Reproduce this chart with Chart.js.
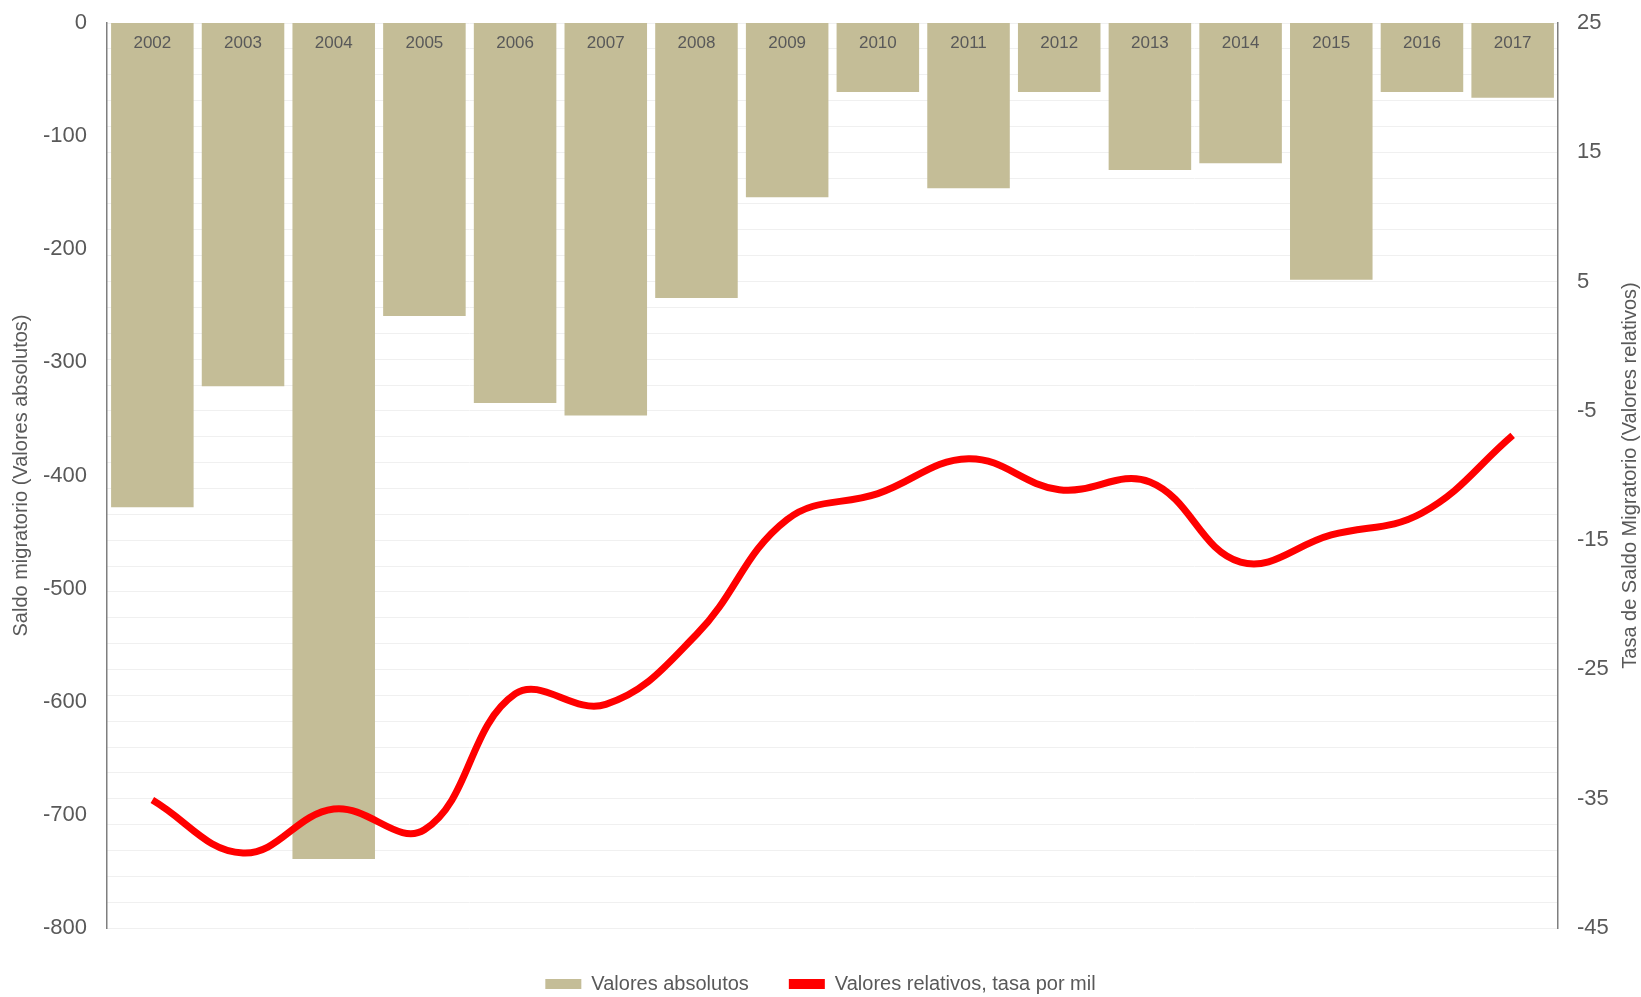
<!DOCTYPE html>
<html>
<head>
<meta charset="utf-8">
<script src="https://cdn.jsdelivr.net/npm/chart.js@4"></script>
<style>
  html, body { margin: 0; padding: 0; background: #fff; }
  #wrap { width: 1641px; height: 997px; position: relative; }
</style>
</head>
<body>
<div id="wrap"><canvas id="chart"></canvas></div>
<script>
// Saldo migratorio 2002-2017

const years = ['2002', '2003', '2004', '2005', '2006', '2007', '2008', '2009',
  '2010', '2011', '2012', '2013', '2014', '2015', '2016', '2017'];
const absoluteValues = [-428, -321, -739, -259, -336, -347, -243, -154,
  -61, -146, -61, -130, -124, -227, -61, -66];
const relativeRates = [-35.1, -39.2, -35.8, -37.4, -26.9, -27.7, -22.3, -13.4,
  -11.4, -8.7, -11.1, -10.5, -16.7, -14.6, -12.9, -6.9];
const leftTicks = [0, -100, -200, -300, -400, -500, -600, -700, -800];
const rightTicks = [25, 15, 5, -5, -15, -25, -35, -45];

const FONT = "'Liberation Sans', Arial, sans-serif";
const GREY = '#595959';
const AXIS = '#7f7f7f';

// year labels sit inside the bars, just under the zero line
const yearLabels = {
  id: 'yearLabels',
  afterDatasetsDraw(chart) {
    const { ctx, scales: { x, y } } = chart;
    ctx.save();
    ctx.font = '17px ' + FONT;
    ctx.fillStyle = GREY;
    ctx.textAlign = 'center';
    ctx.textBaseline = 'middle';
    years.forEach((yr, i) => {
      ctx.fillText(yr, x.getPixelForValue(i), y.getPixelForValue(0) + 20);
    });
    ctx.restore();
  },
};

// right axis title reads bottom-to-top like the left one
const rightTitle = {
  id: 'rightTitle',
  afterDraw(chart) {
    const { ctx, chartArea } = chart;
    ctx.save();
    ctx.translate(1630, (chartArea.top + chartArea.bottom) / 2);
    ctx.rotate(-Math.PI / 2);
    ctx.font = '20px ' + FONT;
    ctx.fillStyle = GREY;
    ctx.textAlign = 'center';
    ctx.textBaseline = 'middle';
    ctx.fillText('Tasa de Saldo Migratorio (Valores relativos)', 0, 0);
    ctx.restore();
  },
};

// squeeze the legend box so it sits close to the bottom edge
const legendHeight = {
  id: 'legendHeight',
  afterInit(chart) {
    const lg = chart.legend;
    if (!lg) return;
    const fit = lg.fit.bind(lg);
    lg.fit = () => { fit(); lg.height = 63; };
  },
};

function tightY(width) {
  return (s) => {
    s.width = width;
    s.paddingTop = 0;
    s.paddingBottom = 0;
  };
}

new Chart(document.getElementById('chart'), {
  data: {
    labels: years,
    datasets: [
      {
        type: 'bar',
        label: 'Valores absolutos',
        data: absoluteValues,
        backgroundColor: '#c4bd97',
        barPercentage: 0.91,
        categoryPercentage: 1,
        yAxisID: 'y',
        order: 2,
      },
      {
        type: 'line',
        label: 'Valores relativos, tasa por mil',
        data: relativeRates,
        borderColor: '#ff0000',
        backgroundColor: '#ff0000',
        borderWidth: 7,
        tension: 0.4,
        pointRadius: 0,
        yAxisID: 'y2',
        order: 1,
      },
    ],
  },
  options: {
    responsive: true,
    maintainAspectRatio: false,
    animation: false,
    layout: { padding: { top: 23, bottom: 0 } },
    plugins: {
      tooltip: { enabled: false },
      legend: {
        position: 'bottom',
        labels: {
          font: { family: FONT, size: 20 },
          color: GREY,
          boxWidth: 36,
          boxHeight: 10,
          padding: 40,
          sort: (a, b) => a.datasetIndex - b.datasetIndex,
          generateLabels(chart) {
            return Chart.defaults.plugins.legend.labels.generateLabels(chart).map(l => ({ ...l, lineWidth: 0 }));
          },
        },
      },
    },
    scales: {
      x: {
        display: true,
        offset: true,
        grid: { display: false },
        border: { display: false },
        ticks: { display: false },
        afterFit(s) { s.height = 6; },
      },
      y: {
        position: 'left',
        min: -800,
        max: 0,
        afterBuildTicks(s) { s.ticks = leftTicks.map(v => ({ value: v })); },
        grid: { display: false, drawTicks: false },
        border: { display: true, color: AXIS, width: 1.5 },
        ticks: { font: { family: FONT, size: 22 }, color: GREY, padding: 20 },
        title: {
          display: true,
          text: 'Saldo migratorio (Valores absolutos)',
          font: { family: FONT, size: 20 },
          color: GREY,
          padding: { top: 9 },
        },
        afterFit: tightY(107),
      },
      y2: {
        position: 'right',
        min: -45,
        max: 25,
        grid: { color: '#f0f0f0', lineWidth: 1, drawTicks: false },
        border: { display: true, color: AXIS, width: 1.5 },
        ticks: {
          stepSize: 2,
          autoSkip: false,
          font: { family: FONT, size: 22 },
          color: GREY,
          padding: 19,
          callback: (v) => (rightTicks.includes(v) ? String(v) : ''),
        },
        afterFit: tightY(83),
      },
    },
  },
  plugins: [yearLabels, rightTitle, legendHeight],
});
</script>
</body>
</html>
